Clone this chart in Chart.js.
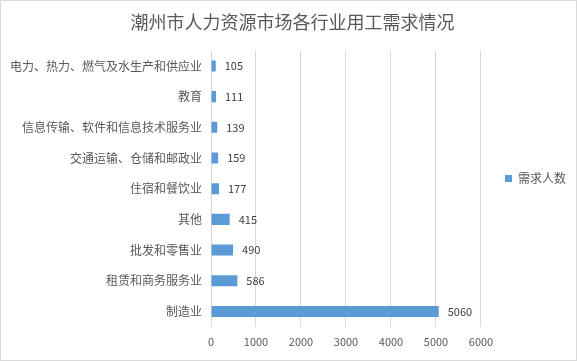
<!DOCTYPE html>
<html>
<head>
<meta charset="utf-8">
<script src="https://cdn.jsdelivr.net/npm/chart.js@4"></script>
<style>
  html, body { margin: 0; padding: 0; background: #fff; }
  .frame { width: 575px; height: 359px; border: 1px solid #d9d9d9; }
</style>
</head>
<body>
<div class="frame"><canvas id="chart" width="575" height="359"></canvas></div>
<script>
const categories = [
  '电力、热力、燃气及水生产和供应业',
  '教育',
  '信息传输、软件和信息技术服务业',
  '交通运输、仓储和邮政业',
  '住宿和餐饮业',
  '其他',
  '批发和零售业',
  '租赁和商务服务业',
  '制造业'
];
const demand = [105, 111, 139, 159, 177, 415, 490, 586, 5060];
const xTicks = [0, 1000, 2000, 3000, 4000, 5000, 6000];

const FONT = '"Noto Sans CJK SC", "Noto Sans", sans-serif';

const valueLabels = {
  id: 'valueLabels',
  afterDatasetsDraw(chart) {
    const ctx = chart.ctx;
    const meta = chart.getDatasetMeta(0);
    ctx.save();
    ctx.font = '11px ' + FONT;
    ctx.fillStyle = '#404040';
    ctx.textBaseline = 'middle';
    ctx.textAlign = 'left';
    meta.data.forEach((bar, i) => {
      ctx.fillText(String(demand[i]), bar.x + 9, bar.y);
    });
    ctx.restore();
  }
};

new Chart(document.getElementById('chart'), {
  type: 'bar',
  data: {
    labels: categories,
    datasets: [{
      label: '需求人数',
      data: demand,
      backgroundColor: '#5b9bd5',
      borderWidth: 0,
      barPercentage: 0.36,
      categoryPercentage: 1
    }]
  },
  options: {
    indexAxis: 'y',
    responsive: false,
    animation: false,
    layout: { padding: { left: 8, right: 0, top: 0, bottom: 4 } },
    plugins: {
      title: {
        display: true,
        text: '潮州市人力资源市场各行业用工需求情况',
        color: '#595959',
        font: { family: FONT, size: 18, weight: 'normal' },
        padding: { top: 10, bottom: 18 }
      },
      legend: {
        position: 'right',
        labels: {
          boxWidth: 7,
          boxHeight: 7,
          color: '#595959',
          font: { family: FONT, size: 12 },
          padding: 24
        }
      },
      tooltip: { enabled: false }
    },
    scales: {
      x: {
        min: 0,
        max: 6000,
        afterBuildTicks: (axis) => { axis.ticks = xTicks.map((v) => ({ value: v })); },
        ticks: {
          color: '#595959',
          font: { family: FONT, size: 11 },
          padding: 8,
          callback: (v) => String(v)
        },
        grid: { color: '#d9d9d9', drawTicks: false },
        border: { display: false }
      },
      y: {
        afterFit: (axis) => { axis.width = 202; },
        ticks: {
          color: '#595959',
          font: { family: FONT, size: 12 },
          padding: 9
        },
        grid: { display: false, drawTicks: false },
        border: { display: false }
      }
    }
  },
  plugins: [valueLabels]
});
</script>
</body>
</html>
